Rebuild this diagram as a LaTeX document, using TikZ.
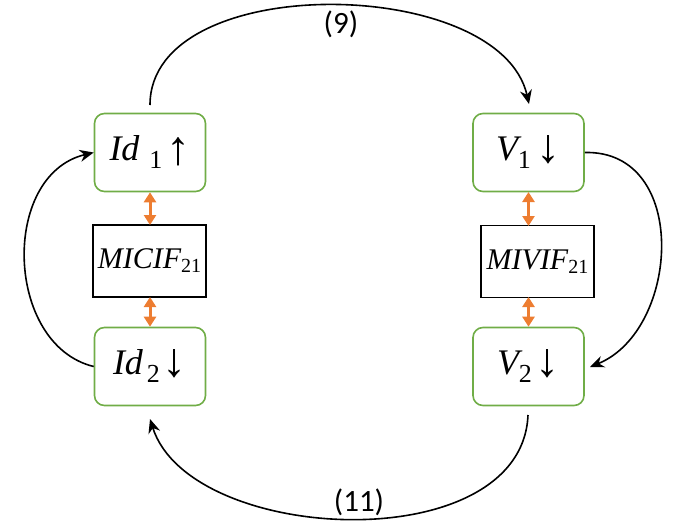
\documentclass[tikz,border=0pt]{standalone}
\usepackage{fontspec}
\setmainfont{Liberation Serif}
\newfontfamily\labelfont{Carlito}
\usetikzlibrary{arrows.meta}
\definecolor{boxgreen}{HTML}{70AD47}
\definecolor{linkorange}{HTML}{ED7D31}
\newcommand{\subsz}{\fontsize{26}{26}\selectfont}
\newcommand{\mainsz}{\fontsize{36}{36}\selectfont}
% index lowered below the baseline
\newcommand{\lowidx}[1]{\raisebox{-8pt}{\subsz #1}}
% trend arrows, set larger than the letters
\newcommand{\uparr}{\raisebox{-4pt}{\fontsize{48}{48}\selectfont ↑}}
\newcommand{\downarr}{\raisebox{-2pt}{\fontsize{48}{48}\selectfont ↓}}
\begin{document}
\begin{tikzpicture}[x=1pt,y=-1pt,
  gbox/.style={draw=boxgreen,line width=1.6pt,rounded corners=10pt,
    minimum width=111pt,minimum height=78pt,inner sep=0pt,font=\mainsz},
  mbox/.style={draw=black,line width=1.4pt,minimum width=113pt,
    minimum height=72pt,inner sep=0pt,font=\fontsize{30}{30}\selectfont},
  link/.style={linkorange,line width=3pt,
    {Triangle[length=10pt,width=12pt]}-{Triangle[length=10pt,width=12pt]}},
  flow/.style={black,line width=1.6pt,-{Stealth[length=14pt,width=12pt]}},
  eqlabel/.style={font=\labelfont\fontsize{31}{31}\selectfont,inner sep=0pt}]
\useasboundingbox (0,0) rectangle (678,522);

% left column
\node[gbox] (id1) at (150,152.5) {\itshape Id\upshape\hspace{10pt}\lowidx{1}\hspace{4pt}\uparr\hspace{8pt}};
\node[mbox] (micif) at (149.5,261) {\itshape MICIF\upshape\raisebox{-4pt}{\fontsize{20}{20}\selectfont 21}};
\node[gbox] (id2) at (150,366.5) {\itshape Id\upshape\hspace{4pt}\lowidx{2}\hspace{3pt}\downarr};

% right column
\node[gbox] (v1) at (528.5,152.5) {\itshape V\upshape\lowidx{1}\hspace{6pt}\downarr};
\node[mbox] (mivif) at (537.5,261.5) {\itshape MIVIF\upshape\raisebox{-4pt}{\fontsize{20}{20}\selectfont 21}};
\node[gbox] (v2) at (528.5,366.5) {\itshape V\upshape\lowidx{2}\hspace{4pt}\downarr};

% coupling links
\draw[link] (id1.south) -- (150,225);
\draw[link] (150,297) -- (id2.north);
\draw[link] (528.5,192) -- (528.5,226);
\draw[link] (528.5,297) -- (v2.north);

% end points of the flow arcs
\coordinate (topstart) at (150,105);
\coordinate (topend) at (529,104);
\coordinate (botstart) at (528,415);
\coordinate (botend) at (150,419);
\coordinate (rightend) at (590,367);

% flow arcs
\draw[flow] (topstart) .. controls (150,-30) and (500,-25) .. (topend);
\draw[flow] (botstart) .. controls (522,560) and (190,545) .. (botend);
\draw[flow] (id2.west) .. controls (5,345) and (0,175) .. (id1.west);
\draw[flow] (v1.east) .. controls (690,150) and (680,330) .. (rightend);

% equation labels
\node[eqlabel] (lab9) at (341,24) {(9)};
\node[eqlabel] (lab11) at (359,502) {(11)};
\end{tikzpicture}
\end{document}
